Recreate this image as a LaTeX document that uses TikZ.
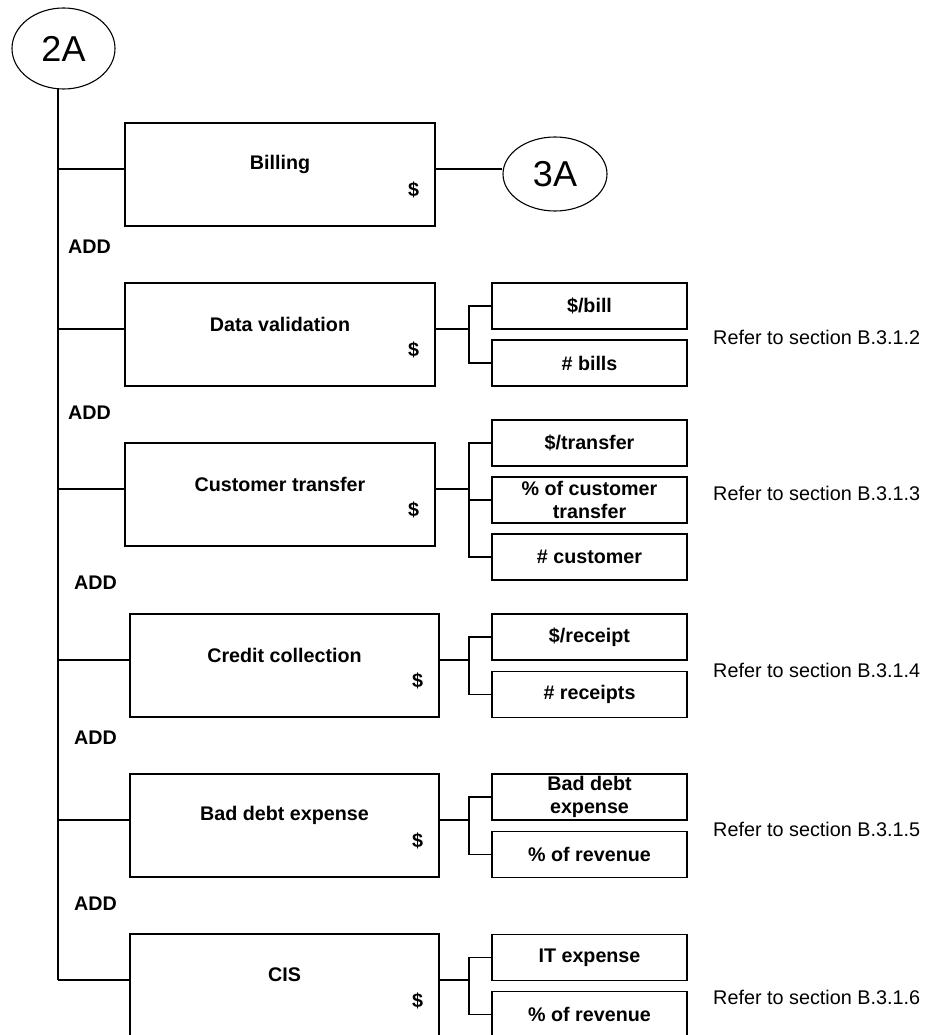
\documentclass[tikz,border=0pt]{standalone}
\usepackage{fontspec}
\setmainfont{Liberation Sans}
\usetikzlibrary{shapes.geometric,calc}
\tikzset{
  ln/.style={line width=1.3pt},
  mainbox/.style={draw, line width=1.3pt, rectangle, minimum width=310pt, minimum height=103pt, inner sep=0pt},
  subbox/.style={draw, line width=1.3pt, rectangle, minimum width=195pt, minimum height=46pt, inner sep=0pt, font=\bfseries\fontsize{19.7}{23}\selectfont, align=center},
  boldtxt/.style={font=\bfseries\fontsize{19.7}{23}\selectfont, inner sep=0pt},
  addtxt/.style={font=\bfseries\fontsize{19.7}{23}\selectfont, inner sep=0pt, anchor=west},
  reftxt/.style={font=\fontsize{19.8}{23}\selectfont, anchor=west, inner sep=0pt},
  connector/.style={draw, ellipse, line width=1.1pt, font=\fontsize{36}{40}\selectfont, inner sep=0pt}
}
\begin{document}
\begin{tikzpicture}[x=1pt,y=-1pt]
\clip (0,0) rectangle (927,1035);
\fill[white] (0,0) rectangle (927,1035);

% off-page connectors
\node[connector, minimum width=103pt, minimum height=81pt] (n2A) at (63.5,48.5) {2A};
\node[connector, minimum width=104pt, minimum height=74pt] (n3A) at (555,174) {3A};
\coordinate (t0) at (58,88.3);

% main boxes
\node[mainbox] (b1) at (280,174.5) {};
\node[mainbox] (b2) at (280,334.5) {};
\node[mainbox] (b3) at (280,494.5) {};
\node[mainbox, minimum width=309pt] (b4) at (284.5,665.5) {};
\node[mainbox, minimum width=309pt] (b5) at (284.5,825.5) {};
\node[mainbox, minimum width=309pt] (b6) at (284.5,985.5) {};

% titles and $ signs
\foreach \b/\t in {b1/Billing, b2/Data validation, b3/Customer transfer, b4/Credit collection, b5/Bad debt expense, b6/CIS}{
  \node[boldtxt] (\b t) at ($(\b.center)+(0,-10.5)$) {\t};
  \node[boldtxt] (\b d) at ($(\b.east)+(-22,15)$) {\$};
}

% connection points on main boxes
\coordinate (b1l) at (b1.west |- 0,169);
\coordinate (b2l) at (b2.west |- 0,329);
\coordinate (b3l) at (b3.west |- 0,489);
\coordinate (b4l) at (b4.west |- 0,660);
\coordinate (b5l) at (b5.west |- 0,820);
\coordinate (b6l) at (b6.west |- 0,980);
\coordinate (b1r) at (b1.east |- 0,169);
\coordinate (b2r) at (b2.east |- 0,329);
\coordinate (b3r) at (b3.east |- 0,489);
\coordinate (b4r) at (b4.east |- 0,660);
\coordinate (b5r) at (b5.east |- 0,820);
\coordinate (b6r) at (b6.east |- 0,980);

% trunk
\draw[ln] (t0) -- (t0 |- b6l);
\foreach \i in {1,...,6}{
  \draw[ln] (t0 |- b\i l) -- (b\i l);
}
\draw[ln] (b1r) -- (n3A.west |- b1r);

% ADD labels
\node[addtxt] (add1) at (68,247) {ADD};
\node[addtxt] (add2) at (68,413) {ADD};
\node[addtxt] (add3) at (74,583) {ADD};
\node[addtxt] (add4) at (74,738) {ADD};
\node[addtxt] (add5) at (74,904) {ADD};

% sub boxes
\node[subbox] (s21) at (589.5,306) {\$/bill};
\node[subbox] (s22) at (589.5,363) {\# bills};
\node[subbox] (s31) at (589.5,443) {\$/transfer};
\node[subbox] (s32) at (589.5,500) {\% of customer\\transfer};
\node[subbox] (s33) at (589.5,557) {\# customer};
\node[subbox] (s41) at (589.5,637) {\$/receipt};
\node[subbox] (s42) at (589.5,694.5) {\# receipts};
\node[subbox] (s51) at (589.5,797) {Bad debt\\expense};
\node[subbox] (s52) at (589.5,854.5) {\% of revenue};
\node[subbox] (s61) at (589.5,957.5) {IT expense};
\node[subbox] (s62) at (589.5,1014.5) {\% of revenue};

% branches
\coordinate (j2) at (469,329);
\coordinate (j3) at (469,489);
\coordinate (j4) at (469,660);
\coordinate (j5) at (469,820);
\coordinate (j6) at (469,980);
\draw[ln] (b2r) -- (j2);
\draw[ln] (s21.west) -- (j2 |- s21.west) -- (j2 |- s22.west) -- (s22.west);
\draw[ln] (b3r) -- (j3);
\draw[ln] (s31.west) -- (j3 |- s31.west) -- (j3 |- s33.west) -- (s33.west);
\draw[ln] (j3 |- s32.west) -- (s32.west);
\draw[ln] (b4r) -- (j4);
\draw[ln] (s41.west) -- (j4 |- s41.west) -- (j4 |- s42.west) -- (s42.west);
\draw[ln] (b5r) -- (j5);
\draw[ln] (s51.west) -- (j5 |- s51.west) -- (j5 |- s52.west) -- (s52.west);
\draw[ln] (b6r) -- (j6);
\draw[ln] (s61.west) -- (j6 |- s61.west) -- (j6 |- s62.west) -- (s62.west);

% references
\node[reftxt] (r2) at (713,337) {Refer to section B.3.1.2};
\node[reftxt] (r3) at (713,493) {Refer to section B.3.1.3};
\node[reftxt] (r4) at (713,670) {Refer to section B.3.1.4};
\node[reftxt] (r5) at (713,829) {Refer to section B.3.1.5};
\node[reftxt] (r6) at (713,997) {Refer to section B.3.1.6};
\end{tikzpicture}
\end{document}
